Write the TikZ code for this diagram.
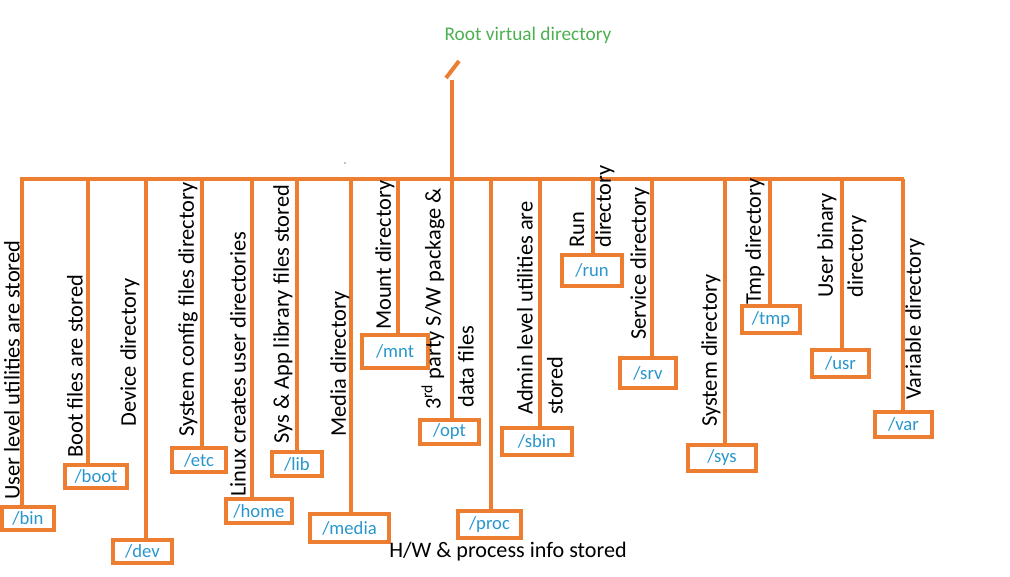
\documentclass[tikz,border=0pt]{standalone}
\usepackage{fontspec}
\setmainfont{Carlito}
\definecolor{org}{RGB}{237,125,49}
\definecolor{dirblue}{RGB}{40,150,205}
\definecolor{rootgreen}{RGB}{76,175,80}
\begin{document}
\begin{tikzpicture}[x=0.75pt,y=-0.75pt,
  conn/.style={draw=org,line width=3pt},
  dirbox/.style={draw=org,line width=3pt,text=dirblue,inner sep=0pt,font=\fontsize{14}{16}\selectfont},
  vlab/.style={rotate=90,anchor=west,inner sep=0pt,font=\fontsize{16.8}{18}\selectfont}]
\useasboundingbox (0,0) rectangle (1010,576);
\node[text=rootgreen,font=\fontsize{14.5}{16}\selectfont] (root) at (528,35) {Root virtual directory};
\draw[conn] (446,78) -- (459,61);
\coordinate (rtop) at (452,80);
\coordinate (rbar) at (452,179);
\draw[conn] (rtop) -- (rbar);
\coordinate (bl) at (20,179);
\coordinate (br) at (904,179);
\draw[conn] (bl) -- (br);
\fill (345,163) circle (0.6);
\foreach \n/\x/\lx/\rx/\ty/\by/\t in {
 bin/22/2/54/507/530/{/bin},
 boot/88/65/127/465/488/{/boot},
 dev/146/113/172/540/563/{/dev},
 etc/202/172/226/448/472/{/etc},
 home/252/226/292/499/523/{/home},
 lib/297/272/322/452/476/{/lib},
 media/351/310/389/514/542/{/media},
 mnt/398/362/428/335/368/{/mnt},
 opt/452/420/479/420/444/{/opt},
 proc/491/458/521/511/538/{/proc},
 sbin/540/502/572/428/455/{/sbin},
 run/593/562/622/255/286/{/run},
 srv/652/620/676/358/388/{/srv},
 sys/725/688/756/445/471/{/sys},
 tmp/770/742/800/306/333/{/tmp},
 usr/842/812/869/350/377/{/usr},
 var/903/875/932/412/437/{/var}}{
  \node[dirbox,minimum width={(\rx-\lx)*0.75pt},minimum height={(\by-\ty)*0.75pt}] (\n) at ({(\lx+\rx)/2},{(\ty+\by)/2}) {\t};
  \coordinate (top\n) at (\x,179);
  \draw[conn] (top\n) -- (top\n |- \n.north);
}
\node[vlab] (l1) at (12,500) {User level utilities are stored};
\node[vlab] (l2) at (75,458) {Boot files are stored};
\node[vlab] (l3) at (130,427) {Device directory};
\node[vlab] (l4) at (188,437) {System config files directory};
\node[vlab] (l5) at (238,497) {Linux creates user directories};
\node[vlab] (l6) at (283,444) {Sys \& App library files stored};
\node[vlab] (l7) at (340,437) {Media directory};
\node[vlab] (l8) at (385,330) {Mount directory};
\node[vlab] (l9) at (433,410) {3\textsuperscript{rd} party S/W package \&};
\node[vlab] (l9b) at (466,408) {data files};
\node[vlab] (l10) at (525,415) {Admin level utilities are};
\node[vlab] (l10b) at (555,415) {stored};
\node[vlab] (l11) at (577,248) {Run};
\node[vlab] (l11b) at (605,248) {directory};
\node[vlab] (l12) at (640,340) {Service directory};
\node[vlab] (l13) at (711,427) {System directory};
\node[vlab] (l14) at (755,305) {Tmp directory};
\node[vlab] (l15) at (827,298) {User binary};
\node[vlab] (l15b) at (857,298) {directory};
\node[vlab] (l16) at (915,400) {Variable directory};
\node[font=\fontsize{16.6}{18}\selectfont] (hw) at (508,552) {H/W \& process info stored};
\end{tikzpicture}
\end{document}
